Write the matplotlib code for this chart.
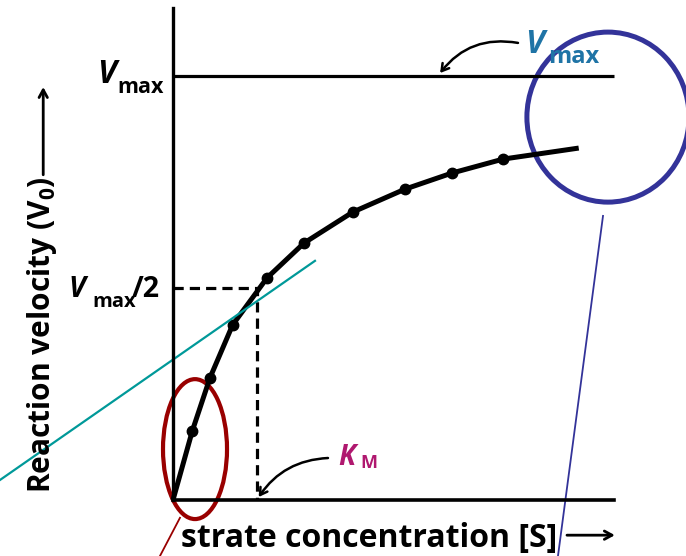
import matplotlib
matplotlib.use("Agg")
import matplotlib.pyplot as plt
from matplotlib.patches import Ellipse

# ---- data (Km = 1, Vmax = 1) ----
s_points = [0.23, 0.44, 0.71, 1.12, 1.56, 2.14, 2.76, 3.32, 3.93]
v_points = [0.163, 0.288, 0.413, 0.524, 0.606, 0.679, 0.733, 0.771, 0.804]
s_curve = [0.0] + s_points + [4.83]
v_curve = [0.0] + v_points + [0.830]
vmax = 1.0
km = 1.0

plt.rcParams['font.family'] = ['Open Sans', 'DejaVu Sans']
plt.rcParams['font.weight'] = 'bold'

fig = plt.figure(figsize=(6.86, 5.56), dpi=100)
ax = fig.add_axes([0, 0, 1, 1])
ax.set_xlim(-2.0595, 6.107)
ax.set_ylim(-0.1321, 1.1792)
ax.set_xticks([])
ax.set_yticks([])
for side in ('top', 'right'):
    ax.spines[side].set_visible(False)
ax.spines['left'].set_position(('data', 0))
ax.spines['bottom'].set_position(('data', 0))
ax.spines['left'].set_bounds(0, 1.16)
ax.spines['bottom'].set_bounds(0, 5.25)
ax.spines['left'].set_linewidth(2.4)
ax.spines['bottom'].set_linewidth(2.6)
ax.patch.set_visible(False)

# Vmax line
ax.plot([0, 5.25], [vmax, vmax], color='black', lw=2.3, solid_capstyle='butt')
# dashed Km / Vmax/2 guides
ax.plot([0, km, km], [vmax / 2, vmax / 2, 0], color='black', lw=2.3,
        linestyle=(0, (3.2, 1.9)))

# curve + points
ax.plot(s_curve, v_curve, color='black', lw=3.6, solid_capstyle='butt',
        solid_joinstyle='round')
ax.plot(s_points, v_points, 'o', color='black', ms=7.5)

# labels on the y axis
fs = 23
ax.text(-0.905, 0.983, 'V', fontsize=fs, fontstyle='italic', fontweight='bold',
        ha='left', va='baseline')
ax.text(-0.667, 0.960, 'max', fontsize=15.5, fontweight='bold',
        ha='left', va='baseline')
ax.text(-1.25, 0.479, 'V', fontsize=20.5, fontstyle='italic', fontweight='bold',
        ha='left', va='baseline')
ax.text(-0.964, 0.455, 'max', fontsize=14.5, fontweight='bold',
        ha='left', va='baseline')
ax.text(-0.488, 0.479, '/2', fontsize=20.5, fontweight='bold',
        ha='left', va='baseline')

# axis titles
ax.text(-1.464, 0.0165, r'Reaction velocity ($\mathregular{V_0}$)', fontsize=21.5,
        fontweight='bold', rotation=90, rotation_mode='anchor',
        ha='left', va='baseline')
ax.annotate('', xy=(-1.545, 0.974), xytext=(-1.545, 0.767),
            arrowprops=dict(arrowstyle='->,head_length=0.55,head_width=0.3',
                            lw=2.0, color='black', shrinkA=0, shrinkB=0))
ax.text(0.095, -0.111, 'strate concentration [S]', fontsize=fs,
        fontweight='bold', ha='left', va='baseline')
ax.annotate('', xy=(5.26, -0.083), xytext=(4.69, -0.083),
            arrowprops=dict(arrowstyle='->,head_length=0.55,head_width=0.3',
                            lw=2.0, color='black', shrinkA=0, shrinkB=0))

# Vmax callout (blue)
blue_txt = '#1f74a6'
ax.text(4.19, 1.054, 'V', fontsize=fs, fontstyle='italic', fontweight='bold',
        color=blue_txt, ha='left', va='baseline')
ax.text(4.46, 1.031, 'max', fontsize=17, fontweight='bold',
        color=blue_txt, ha='left', va='baseline')
ax.annotate('', xy=(3.18, 1.007), xytext=(4.107, 1.078),
            arrowprops=dict(arrowstyle='->,head_length=0.5,head_width=0.3',
                            connectionstyle='arc3,rad=0.3', lw=1.8,
                            color='black', shrinkA=0, shrinkB=0))

# Km callout (magenta)
mag = '#b0186f'
ax.text(1.964, 0.0825, 'K', fontsize=20, fontstyle='italic', fontweight='bold',
        color=mag, ha='left', va='baseline')
ax.text(2.226, 0.0755, 'M', fontsize=13, fontweight='bold',
        color=mag, ha='left', va='baseline')
ax.annotate('', xy=(1.02, 0.007), xytext=(1.845, 0.099),
            arrowprops=dict(arrowstyle='->,head_length=0.5,head_width=0.3',
                            connectionstyle='arc3,rad=0.25', lw=1.8,
                            color='black', shrinkA=0, shrinkB=0))

# hand-drawn highlights
ax.add_patch(Ellipse((5.178, 0.903), 1.93, 0.401, fill=False,
                     edgecolor='#333399', lw=3.6))
ax.plot([5.119, 4.583], [0.670, -0.132], color='#333399', lw=1.3)
ax.add_patch(Ellipse((0.262, 0.120), 0.762, 0.330, fill=False,
                     edgecolor='#990000', lw=3.0))
ax.plot([0.083, -0.155], [-0.042, -0.132], color='#990000', lw=1.3)
ax.plot([-2.0595, 1.69], [0.0472, 0.564], color='#009999', lw=1.6)

fig.savefig('out.png', dpi=100)
